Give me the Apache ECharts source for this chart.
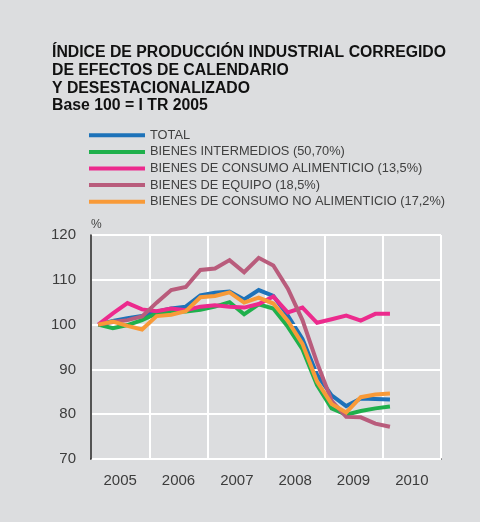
<!DOCTYPE html>
<html>
<head>
<meta charset="utf-8">
<script src="https://cdn.jsdelivr.net/npm/echarts@6/dist/echarts.min.js"></script>
<style>
  html, body { margin: 0; padding: 0; background: #dcdddf; }
  #chart { width: 480px; height: 522px; }
</style>
</head>
<body>
<div id="chart"></div>
<script>
  // años (etiquetas del eje x), datos trimestrales I TR 2005 - I TR 2010
  var years = ['2005', '2006', '2007', '2008', '2009', '2010'];
  var yTicks = [70, 80, 90, 100, 110, 120];

  var total = [100, 100.8, 101.4, 101.9, 102.9, 103.6, 104.0, 106.5, 107.1, 107.4, 105.6, 107.7, 106.4, 102.0, 96.8, 88.8, 84.2, 81.8, 83.5, 83.4, 83.3];
  var intermedios = [100, 99.2, 99.9, 101.0, 102.5, 102.9, 102.9, 103.3, 104.0, 105.0, 102.3, 104.5, 103.6, 99.5, 94.5, 86.5, 81.3, 79.9, 80.7, 81.3, 81.7];
  var alimenticio = [100, 102.5, 104.8, 103.4, 103.0, 103.6, 103.2, 104.0, 104.3, 104.0, 103.8, 104.6, 106.3, 102.7, 103.8, 100.4, 101.2, 102.0, 100.9, 102.4, 102.4];
  var equipo = [100, 100.6, 101.0, 101.8, 104.9, 107.7, 108.4, 112.2, 112.5, 114.4, 111.7, 114.9, 113.2, 108.0, 101.0, 91.5, 83.0, 79.4, 79.3, 77.9, 77.2];
  var noAlimenticio = [100, 100.7, 99.7, 98.9, 101.9, 102.2, 103.0, 106.1, 106.4, 107.2, 104.9, 106.0, 104.7, 100.8, 95.7, 87.3, 82.3, 80.4, 83.8, 84.4, 84.6];

  var names = [
    'TOTAL',
    'BIENES INTERMEDIOS (50,70%)',
    'BIENES DE CONSUMO ALIMENTICIO (13,5%)',
    'BIENES DE EQUIPO (18,5%)',
    'BIENES DE CONSUMO NO ALIMENTICIO (17,2%)'
  ];
  var colors = ['#1d72b9', '#1fb04c', '#ec2a8d', '#b95c7c', '#f89a38'];
  var values = [total, intermedios, alimenticio, equipo, noAlimenticio];

  // cada trimestre ocupa 1 unidad, centrado en el trimestre
  function toPoints(arr) {
    return arr.map(function (v, i) { return [i + 0.5, v]; });
  }

  var chart = echarts.init(document.getElementById('chart'));
  chart.setOption({
    backgroundColor: '#dcdddf',
    animation: false,
    color: colors,
    title: {
      text: 'ÍNDICE DE PRODUCCIÓN INDUSTRIAL CORREGIDO\nDE EFECTOS DE CALENDARIO\nY DESESTACIONALIZADO\nBase 100 = I TR 2005',
      left: 52,
      top: 44,
      padding: 0,
      textStyle: {
        fontFamily: 'Liberation Sans',
        fontSize: 15.8,
        fontWeight: 'bold',
        color: '#111',
        lineHeight: 17.7
      }
    },
    legend: {
      orient: 'vertical',
      left: 89,
      top: 127,
      padding: 0,
      itemGap: 0,
      itemWidth: 56,
      itemHeight: 4,
      icon: 'rect',
      data: names,
      textStyle: {
        fontFamily: 'Liberation Sans',
        fontSize: 12.8,
        color: '#404040',
        lineHeight: 16.6
      }
    },
    grid: {
      left: 91,
      right: 39,
      top: 235,
      bottom: 63,
      containLabel: false
    },
    xAxis: [{
      type: 'value',
      min: 0,
      max: 24,
      interval: 4,
      axisLine: { show: true, lineStyle: { color: '#1a1a1a', width: 1.5 } },
      axisTick: { show: false },
      axisLabel: { show: false },
      splitLine: { show: true, lineStyle: { color: '#ffffff', width: 2 } }
    }, {
      type: 'category',
      position: 'bottom',
      data: years,
      boundaryGap: true,
      axisLine: { show: false },
      axisTick: { show: false },
      splitLine: { show: false },
      axisLabel: {
        margin: 14,
        fontFamily: 'Liberation Sans',
        fontSize: 15,
        color: '#3c3c3c'
      }
    }],
    yAxis: {
      type: 'value',
      min: yTicks[0],
      max: yTicks[yTicks.length - 1],
      interval: 10,
      z: 3,
      name: '%',
      nameLocation: 'end',
      nameGap: 4,
      nameTextStyle: {
        align: 'left',
        fontFamily: 'Liberation Sans',
        fontSize: 12,
        color: '#444'
      },
      axisLine: { show: true, lineStyle: { color: '#1a1a1a', width: 1.5 } },
      axisTick: { show: false },
      axisLabel: {
        margin: 15,
        fontFamily: 'Liberation Sans',
        fontSize: 15,
        color: '#3c3c3c'
      },
      splitLine: { show: true, lineStyle: { color: '#ffffff', width: 2 } }
    },
    series: values.map(function (arr, k) {
      return {
        name: names[k],
        type: 'line',
        xAxisIndex: 0,
        data: toPoints(arr),
        showSymbol: false,
        symbol: 'none',
        lineStyle: { width: 4, color: colors[k], join: 'miter' },
        itemStyle: { color: colors[k] },
        z: 2 + k
      };
    })
  });
</script>
</body>
</html>
